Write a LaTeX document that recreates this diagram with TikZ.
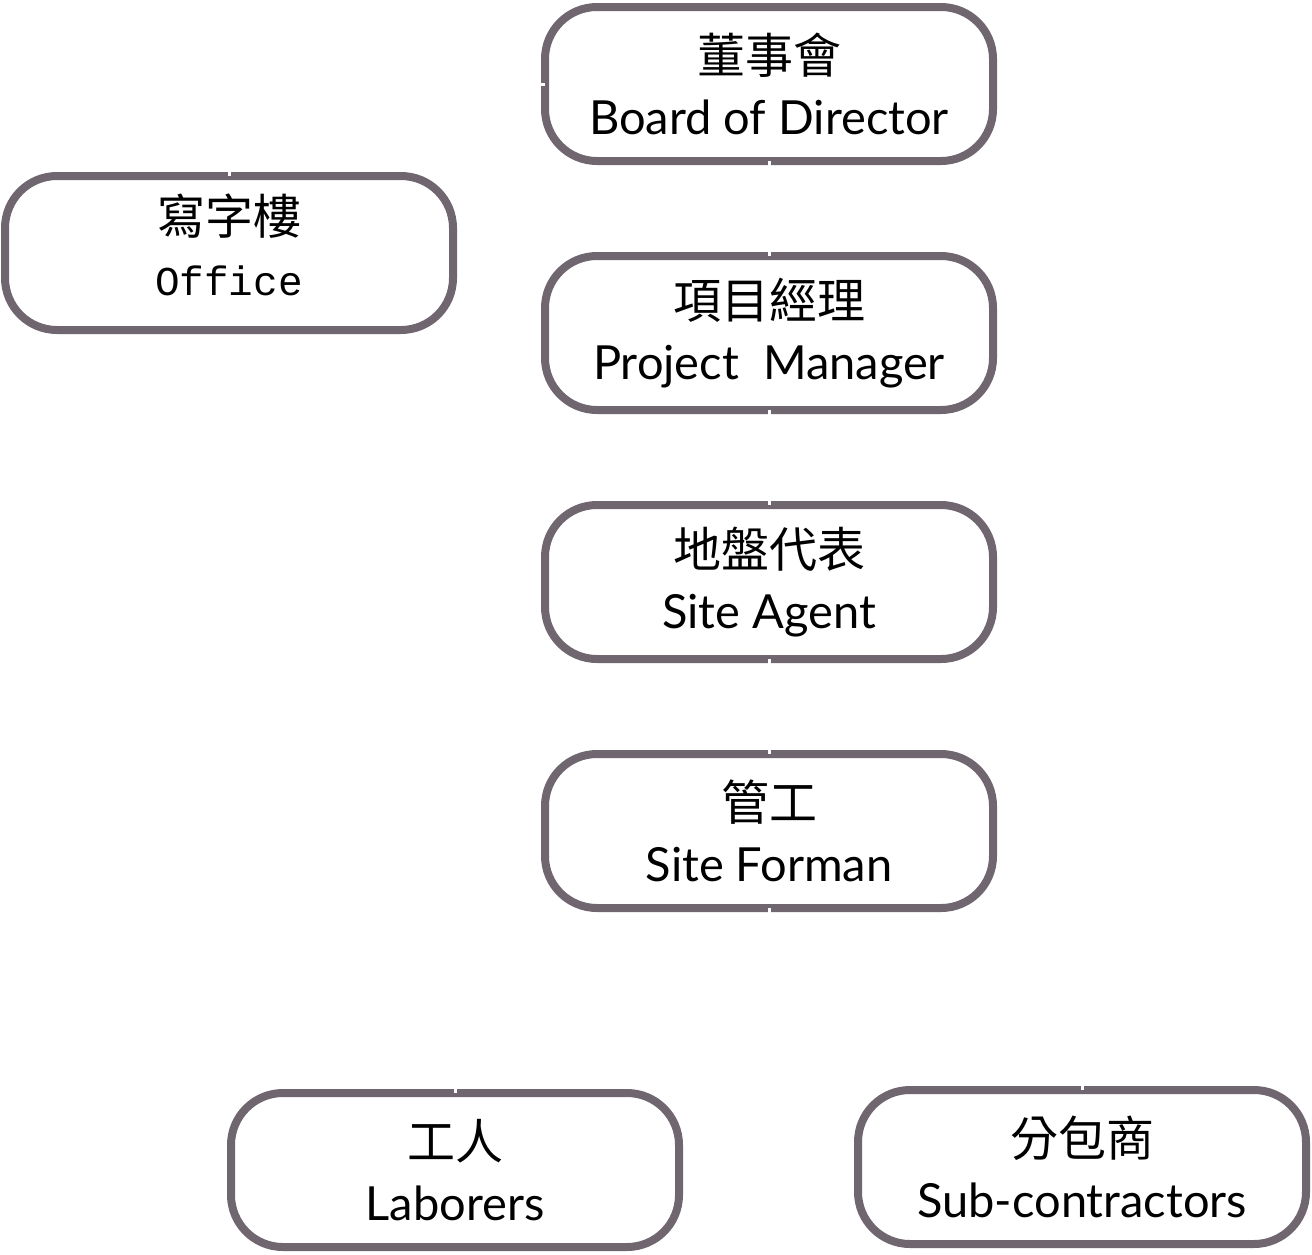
\documentclass[tikz,border=0pt]{standalone}
\usepackage{fontspec}
\setmainfont{Lato}
\setmonofont{Liberation Mono}
\newfontfamily\cjk{Noto Sans CJK TC}
\usetikzlibrary{positioning}
\definecolor{framegray}{RGB}{112,102,112}

\begin{document}
\begin{tikzpicture}[x=0.5pt, y=-0.5pt,
  rolebox/.style={draw=framegray, line width=4pt, rounded corners=26pt, align=center,
    minimum width=224pt, minimum height=77pt, inner sep=0pt, outer sep=0pt, fill=white,
    font=\fontsize{23.5}{30.5}\selectfont},
  link/.style={draw=white, line width=1.5pt}]
\useasboundingbox (0,0) rectangle (1312,1254);
\node[rolebox] (board) at (769, 84) {{\cjk\fontsize{24}{30.5}\selectfont 董事會}\\Board of Director};
\node[rolebox] (office) at (229, 253) {{\cjk\fontsize{24}{28}\selectfont 寫字樓}\\{\ttfamily\fontsize{20.5}{28}\selectfont Office\rule[-8pt]{0pt}{8pt}}};
\node[rolebox] (pm) at (769, 333) {{\cjk\fontsize{24}{30.5}\selectfont 項目經理}\\Project~ Manager};
\node[rolebox] (agent) at (769, 582) {{\cjk\fontsize{24}{30.5}\selectfont 地盤代表}\\Site Agent};
\node[rolebox] (forman) at (769, 831) {{\cjk\fontsize{24}{30.5}\selectfont 管工}\\Site Forman};
\node[rolebox] (labor) at (455, 1170) {{\cjk\fontsize{24}{30.5}\selectfont 工人}\\Laborers};
\node[rolebox] (sub) at (1082, 1167) {{\cjk\fontsize{24}{30.5}\selectfont 分包商}\\Sub-contractors};
\coordinate (split) at (769, 1000);
% connectors (drawn in white)
\draw[link] (board.west) -| (office.north);
\draw[link] (board.south) -- (pm.north);
\draw[link] (pm.south) -- (agent.north);
\draw[link] (agent.south) -- (forman.north);
\draw[link] (forman.south) -- (split) -| (labor.north);
\draw[link] (split) -| (sub.north);
\end{tikzpicture}
\end{document}
